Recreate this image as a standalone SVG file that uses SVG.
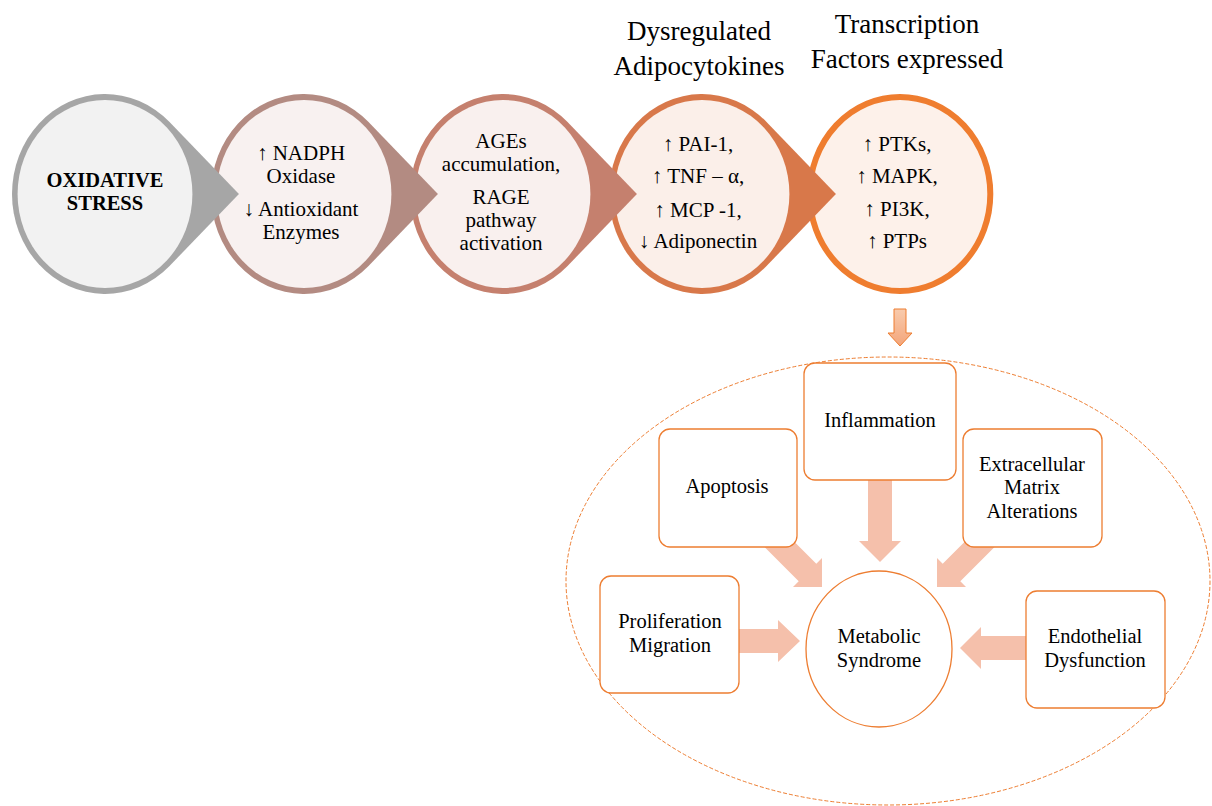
<svg xmlns="http://www.w3.org/2000/svg" width="1212" height="806" viewBox="0 0 1212 806">
<style>
text{font-family:"Liberation Serif","Times New Roman",serif;fill:#000;text-anchor:middle}
.ct{font-size:21px}
.hd{font-size:27px}
.bx{font-size:20.5px}
.box{fill:#fff;stroke:#ed7d31;stroke-width:1.3}
.big{fill:#f5c0ab;stroke:none}
</style>
<defs>
<path id="drop" d="M144,0 L69.4,-72 A100,100 0 1 0 69.4,72 Z"/>
<linearGradient id="ag" x1="0" y1="0" x2="0" y2="1">
<stop offset="0" stop-color="#f8cbad"/><stop offset="1" stop-color="#f4a57a"/>
</linearGradient>
</defs>
<rect width="1212" height="806" fill="#fff"/>

<g id="headings">
<text class="hd" x="699" y="40">Dysregulated</text>
<text class="hd" x="699" y="75">Adipocytokines</text>
<text class="hd" x="907" y="33">Transcription</text>
<text class="hd" x="907" y="68">Factors expressed</text>
</g>

<g id="transcription-factors">
<ellipse cx="900" cy="194" rx="90.3" ry="97" fill="#fdf1ea" stroke="#ef7d2f" stroke-width="6"/>
<text class="ct" x="897" y="151">↑ PTKs,</text>
<text class="ct" x="897" y="183">↑ MAPK,</text>
<text class="ct" x="897" y="216">↑ PI3K,</text>
<text class="ct" x="897" y="248">↑ PTPs</text>
</g>

<g id="adipocytokines">
<g transform="translate(702,194) scale(0.93,1)">
<use href="#drop" fill="#d8784a"/>
<circle r="94" fill="#fbefe9"/>
</g>
<text class="ct" x="698" y="151">↑ PAI-1,</text>
<text class="ct" x="698" y="183">↑ TNF – α,</text>
<text class="ct" x="698" y="217">↑ MCP -1,</text>
<text class="ct" x="698" y="248">↓ Adiponectin</text>
</g>

<g id="ages-rage">
<g transform="translate(503,194) scale(0.93,1)">
<use href="#drop" fill="#c5806e"/>
<circle r="94" fill="#f9f0ee"/>
</g>
<text class="ct" x="501" y="148">AGEs</text>
<text class="ct" x="501" y="171">accumulation,</text>
<text class="ct" x="501" y="204">RAGE</text>
<text class="ct" x="501" y="227">pathway</text>
<text class="ct" x="501" y="250">activation</text>
</g>

<g id="nadph">
<g transform="translate(304,194) scale(0.93,1)">
<use href="#drop" fill="#b38b82"/>
<circle r="94" fill="#f8f1f0"/>
</g>
<text class="ct" x="301" y="160">↑ NADPH</text>
<text class="ct" x="301" y="183">Oxidase</text>
<text class="ct" x="301" y="216">↓ Antioxidant</text>
<text class="ct" x="301" y="239">Enzymes</text>
</g>

<g id="oxidative-stress">
<g transform="translate(105,194) scale(0.93,1)">
<use href="#drop" fill="#a6a6a6"/>
<circle r="94" fill="#f2f2f2"/>
</g>
<text x="105" y="187" style="font-size:20.5px;font-weight:bold">OXIDATIVE</text>
<text x="105" y="210" style="font-size:20.5px;font-weight:bold">STRESS</text>
</g>

<g id="outcome-region">
<ellipse cx="888" cy="581" rx="322" ry="224" fill="none" stroke="#ed7d31" stroke-width="1" stroke-dasharray="4 2"/>
</g>

<g id="connectors">
<polygon points="894,309 906,309 906,333 912,333 900,346 888,333 894,333" fill="url(#ag)" stroke="#ed7d31" stroke-width="1"/>
<polygon class="big" points="868,470 892,470 892,541 901,541 880,562 859,541 868,541"/>
<polygon class="big" points="776.3,523.7 816.3,563.7 822,558 822,587 793,587 798.7,581.3 758.7,541.3"/>
<polygon class="big" points="982.7,523.7 942.7,563.7 937,558 937,587 966,587 960.3,581.3 1000.3,541.3"/>
<polygon class="big" points="730,629 778,629 778,620 800,641 778,662 778,653 730,653"/>
<polygon class="big" points="1035,636 981,636 981,627 960,648 981,669 981,660 1035,660"/>
</g>

<g id="inflammation">
<rect class="box" x="804" y="363" width="152" height="117" rx="11"/>
<text class="bx" x="880" y="427">Inflammation</text>
</g>
<g id="apoptosis">
<rect class="box" x="659" y="429" width="138" height="118" rx="11"/>
<text class="bx" x="727" y="493">Apoptosis</text>
</g>
<g id="extracellular">
<rect class="box" x="963" y="429" width="139" height="118" rx="11"/>
<text class="bx" x="1032" y="471">Extracellular</text>
<text class="bx" x="1032" y="494">Matrix</text>
<text class="bx" x="1032" y="518">Alterations</text>
</g>
<g id="proliferation">
<rect class="box" x="600" y="576" width="139" height="117" rx="11"/>
<text class="bx" x="670" y="628">Proliferation</text>
<text class="bx" x="670" y="652">Migration</text>
</g>
<g id="endothelial">
<rect class="box" x="1026" y="591" width="139" height="117" rx="11"/>
<text class="bx" x="1095" y="643">Endothelial</text>
<text class="bx" x="1095" y="667">Dysfunction</text>
</g>
<g id="metabolic-syndrome">
<ellipse cx="879" cy="649" rx="73" ry="78" fill="#fff" stroke="#ed7d31" stroke-width="1.3"/>
<text class="bx" x="879" y="643">Metabolic</text>
<text class="bx" x="879" y="667">Syndrome</text>
</g>
</svg>
